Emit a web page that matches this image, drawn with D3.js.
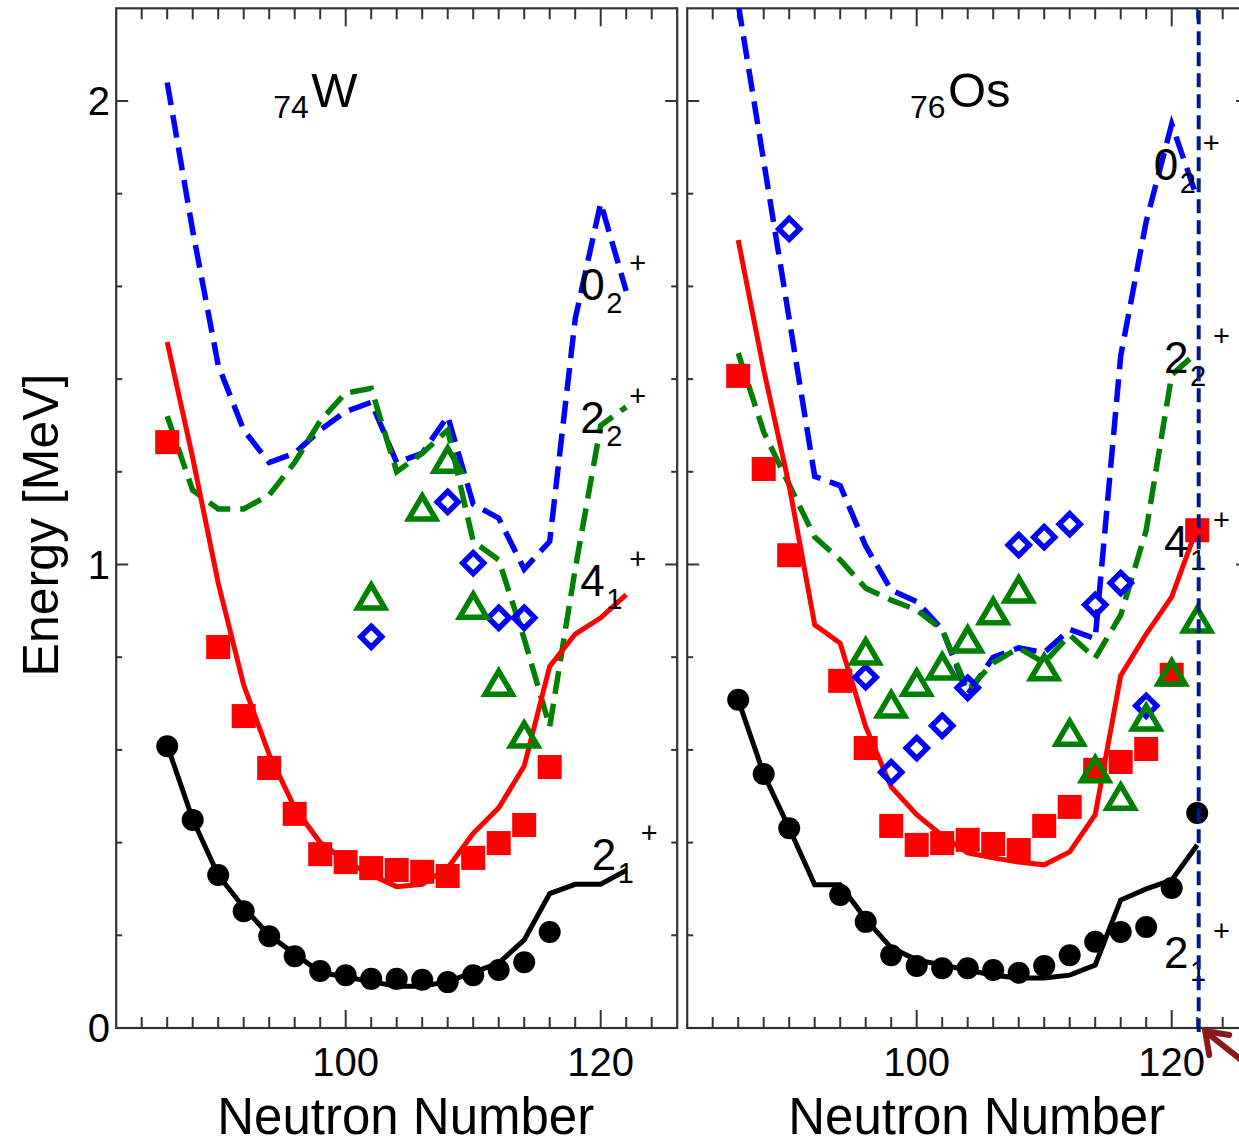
<!DOCTYPE html>
<html>
<head>
<meta charset="utf-8">
<script src="https://cdn.jsdelivr.net/npm/d3@7"></script>
<style>
body { margin: 0; background: #fff; }
svg { display: block; font-family: "Liberation Sans", Arial, sans-serif; }
</style>
</head>
<body>
<div id="chart"></div>
<script>
// theory: every even neutron number from 86 to 122
var neutrons = [86, 88, 90, 92, 94, 96, 98, 100, 102, 104, 106, 108, 110, 112, 114, 116, 118, 120, 122];

// 74W, theory (MeV)
var wTh21 = [0.61, 0.45, 0.33, 0.26, 0.20, 0.16, 0.12, 0.11, 0.10, 0.09, 0.09, 0.10, 0.12, 0.14, 0.19, 0.29, 0.31, 0.31, 0.34];
var wTh41 = [1.48, 1.23, 0.96, 0.74, 0.59, 0.475, 0.40, 0.36, 0.33, 0.305, 0.31, 0.345, 0.42, 0.475, 0.565, 0.78, 0.85, 0.885, 0.935];
var wTh22 = [1.32, 1.16, 1.12, 1.12, 1.15, 1.22, 1.31, 1.37, 1.38, 1.20, 1.24, 1.29, 1.05, 1.01, 0.84, 0.65, 0.99, 1.30, 1.34];
var wTh02 = [2.04, 1.72, 1.43, 1.29, 1.22, 1.24, 1.29, 1.33, 1.35, 1.22, 1.24, 1.32, 1.13, 1.10, 0.99, 1.05, 1.53, 1.78, 1.59];

// 74W, experiment [N, MeV]
var wExp21 = [[86, 0.608], [88, 0.449], [90, 0.330], [92, 0.252], [94, 0.198], [96, 0.155], [98, 0.123], [100, 0.114],
    [102, 0.106], [104, 0.106], [106, 0.104], [108, 0.099], [110, 0.114], [112, 0.125], [114, 0.142], [116, 0.207]];
var wExp41 = [[86, 1.264], [90, 0.822], [92, 0.673], [94, 0.561], [96, 0.462], [98, 0.375], [100, 0.358], [102, 0.345],
    [104, 0.341], [106, 0.337], [108, 0.328], [110, 0.367], [112, 0.399], [114, 0.438], [116, 0.563]];
var wExp22 = [[102, 0.93], [106, 1.122], [108, 1.225], [110, 0.91], [112, 0.744], [114, 0.632]];
var wExp02 = [[102, 0.844], [108, 1.135], [110, 1.003], [112, 0.885], [114, 0.885]];

// 76Os, theory (MeV)
var osTh21 = [0.708, 0.548, 0.431, 0.309, 0.309, 0.235, 0.173, 0.147, 0.136, 0.125, 0.114, 0.108, 0.108, 0.114, 0.136, 0.276, 0.30, 0.319, 0.395];
var osTh41 = [1.70, 1.42, 1.17, 0.87, 0.83, 0.65, 0.52, 0.46, 0.415, 0.378, 0.367, 0.358, 0.352, 0.38, 0.46, 0.76, 0.85, 0.93, 1.08];
var osTh22 = [1.456, 1.286, 1.172, 1.059, 1.010, 0.949, 0.923, 0.902, 0.859, 0.729, 0.788, 0.820, 0.788, 0.848, 0.798, 0.891, 1.074, 1.409, 1.458];
var osTh02 = [2.21, 1.87, 1.53, 1.19, 1.17, 1.04, 0.945, 0.92, 0.86, 0.72, 0.80, 0.82, 0.81, 0.86, 0.84, 1.45, 1.74, 1.95, 1.79];

// 76Os, experiment [N, MeV]
var osExp21 = [[86, 0.708], [88, 0.548], [90, 0.431], [94, 0.287], [96, 0.229], [98, 0.157], [100, 0.134], [102, 0.129],
    [104, 0.129], [106, 0.125], [108, 0.119], [110, 0.134], [112, 0.157], [114, 0.186], [116, 0.207], [118, 0.218],
    [120, 0.302], [122, 0.464]];
var osExp41 = [[86, 1.407], [88, 1.206], [90, 1.020], [94, 0.749], [96, 0.604], [98, 0.436], [100, 0.395], [102, 0.399],
    [104, 0.406], [106, 0.397], [108, 0.384], [110, 0.436], [112, 0.477], [114, 0.557], [116, 0.574], [118, 0.602],
    [120, 0.762], [122, 1.074]];
var osExp22 = [[96, 0.811], [98, 0.697], [100, 0.744], [102, 0.779], [104, 0.837], [106, 0.898], [108, 0.945],
    [110, 0.777], [112, 0.636], [114, 0.557], [116, 0.498], [118, 0.669], [120, 0.766], [122, 0.880]];
var osExp02 = [[90, 1.724], [96, 0.757], [98, 0.552], [100, 0.604], [102, 0.652], [104, 0.734], [108, 1.042],
    [110, 1.059], [112, 1.087], [114, 0.913], [116, 0.960], [118, 0.695]];

var xDomain = [82, 126];
var yDomain = [0, 2.2];
var xMajor = [100, 120];
var yMajor = [0, 1, 2];
var markedN = 122;

var width = 1239, height = 1145;
var plotTop = 8.3, plotBottom = 1028, panelW = 561;

var svg = d3.select('#chart').append('svg')
    .attr('width', width)
    .attr('height', height);

var y = d3.scaleLinear().domain(yDomain).range([plotBottom, plotTop]);

var xTicksMinor = d3.range(84, 126, 2);
var yTicksMinor = [0.2, 0.4, 0.6, 0.8, 1, 1.2, 1.4, 1.6, 1.8, 2];

function pairs(arr) {
    return arr.map(function(v, i) { return [neutrons[i], v]; });
}

function label(g, x0, base, main, sub) {
    g.append('text').attr('x', x0).attr('y', base).attr('font-size', 44).text(main);
    g.append('text').attr('x', x0 + 26).attr('y', base + 13).attr('font-size', 29).text(sub);
    g.append('text').attr('x', x0 + 49).attr('y', base - 27).attr('font-size', 29).text('+');
}

function drawPanel(id, left, th, exp, element, labels) {
    var x = d3.scaleLinear().domain(xDomain).range([left, left + panelW]);
    var g = svg.append('g');

    g.append('clipPath').attr('id', 'clip-' + id)
        .append('rect')
        .attr('x', left).attr('y', plotTop)
        .attr('width', panelW).attr('height', plotBottom - plotTop);

    // ticks, pointing inward on all four sides
    var ax = g.append('g').attr('stroke', '#333').attr('stroke-width', 2);
    xTicksMinor.forEach(function(n) {
        var len = xMajor.indexOf(n) >= 0 ? 18 : 11;
        ax.append('line').attr('x1', x(n)).attr('x2', x(n)).attr('y1', plotTop).attr('y2', plotTop + len);
        ax.append('line').attr('x1', x(n)).attr('x2', x(n)).attr('y1', plotBottom).attr('y2', plotBottom - len);
    });
    yTicksMinor.forEach(function(e) {
        var len = yMajor.indexOf(e) >= 0 ? 12 : 6;
        ax.append('line').attr('x1', left).attr('x2', left + len).attr('y1', y(e)).attr('y2', y(e));
        ax.append('line').attr('x1', left + panelW).attr('x2', left + panelW - len).attr('y1', y(e)).attr('y2', y(e));
    });

    g.append('rect')
        .attr('x', left).attr('y', plotTop)
        .attr('width', panelW).attr('height', plotBottom - plotTop)
        .attr('fill', 'none').attr('stroke', '#333').attr('stroke-width', 2.2);

    g.selectAll('.xlab').data(xMajor).enter().append('text')
        .attr('x', function(d) { return x(d); })
        .attr('y', plotBottom + 48)
        .attr('text-anchor', 'middle')
        .attr('font-size', 40)
        .text(function(d) { return d; });

    g.append('text')
        .attr('x', left + panelW / 2 + 9)
        .attr('y', plotBottom + 106)
        .attr('text-anchor', 'middle')
        .attr('font-size', 51)
        .text('Neutron Number');

    var plot = g.append('g').attr('clip-path', 'url(#clip-' + id + ')');
    var line = d3.line()
        .x(function(d) { return x(d[0]); })
        .y(function(d) { return y(d[1]); });

    plot.append('path').datum(pairs(th.t02)).attr('d', line)
        .attr('fill', 'none').attr('stroke', '#0000ff').attr('stroke-width', 5.5).attr('stroke-dasharray', '23,10');
    plot.append('path').datum(pairs(th.t22)).attr('d', line)
        .attr('fill', 'none').attr('stroke', '#008000').attr('stroke-width', 5.5).attr('stroke-dasharray', '23,10');
    plot.append('path').datum(pairs(th.t41)).attr('d', line)
        .attr('fill', 'none').attr('stroke', '#ff0000').attr('stroke-width', 5);
    plot.append('path').datum(pairs(th.t21)).attr('d', line)
        .attr('fill', 'none').attr('stroke', '#000').attr('stroke-width', 5);

    plot.selectAll('.c21').data(exp.e21).enter().append('circle')
        .attr('cx', function(d) { return x(d[0]); })
        .attr('cy', function(d) { return y(d[1]); })
        .attr('r', 11).attr('fill', '#000');

    plot.selectAll('.s41').data(exp.e41).enter().append('rect')
        .attr('x', function(d) { return x(d[0]) - 12; })
        .attr('y', function(d) { return y(d[1]) - 12; })
        .attr('width', 24).attr('height', 24).attr('fill', '#ff0000');

    plot.selectAll('.d02').data(exp.e02).enter().append('path')
        .attr('d', function(d) {
            var cx = x(d[0]), cy = y(d[1]), r = 10.5;
            return 'M' + cx + ',' + (cy - r) + 'L' + (cx + r) + ',' + cy + 'L' + cx + ',' + (cy + r) + 'L' + (cx - r) + ',' + cy + 'Z';
        })
        .attr('fill', 'none').attr('stroke', '#0000ff').attr('stroke-width', 5.5);

    plot.selectAll('.t22').data(exp.e22).enter().append('path')
        .attr('d', function(d) {
            var cx = x(d[0]), cy = y(d[1]);
            return 'M' + cx + ',' + (cy - 12) + 'L' + (cx + 13.5) + ',' + (cy + 11) + 'L' + (cx - 13.5) + ',' + (cy + 11) + 'Z';
        })
        .attr('fill', 'none').attr('stroke', '#008000').attr('stroke-width', 5.5).attr('stroke-linejoin', 'miter');

    // element name with proton number
    g.append('text').attr('x', x(element.n) - 38).attr('y', 118).attr('font-size', 32).text(element.z);
    g.append('text').attr('x', x(element.n)).attr('y', 107).attr('font-size', 49).text(element.sym);

    labels.forEach(function(l) {
        label(g, x(l[0]), y(l[1]), l[2], l[3]);
    });

    return x;
}

drawPanel('w', 116.2,
    { t21: wTh21, t41: wTh41, t22: wTh22, t02: wTh02 },
    { e21: wExp21, e41: wExp41, e22: wExp22, e02: wExp02 },
    { z: '74', sym: 'W', n: 97.3 },
    [[118.4, 1.571, '0', '2'], [118.4, 1.284, '2', '2'], [118.4, 0.932, '4', '1'], [119.3, 0.341, '2', '1']]);

var xOs = drawPanel('os', 687.2,
    { t21: osTh21, t41: osTh41, t22: osTh22, t02: osTh02 },
    { e21: osExp21, e41: osExp41, e22: osExp22, e02: osExp02 },
    { z: '76', sym: 'Os', n: 82 + (948 - 687.2) / 12.75 },
    [[118.6, 1.83, '0', '2'], [119.4, 1.413, '2', '2'], [119.4, 1.016, '4', '1'], [119.4, 0.130, '2', '1']]);

// y axis labels on the left panel
svg.selectAll('.ylab').data(yMajor).enter().append('text')
    .attr('x', 110)
    .attr('y', function(d) { return y(d) + 14; })
    .attr('text-anchor', 'end')
    .attr('font-size', 40)
    .text(function(d) { return d; });

svg.append('text')
    .attr('transform', 'translate(58,525) rotate(-90)')
    .attr('text-anchor', 'middle')
    .attr('font-size', 50)
    .text('Energy [MeV]');

// marker line at N = 122 in the Os panel
svg.append('line')
    .attr('x1', xOs(markedN) + 1.5).attr('x2', xOs(markedN) + 1.5)
    .attr('y1', plotTop + 2).attr('y2', plotBottom + 4)
    .attr('stroke', '#001a8c').attr('stroke-width', 4).attr('stroke-dasharray', '14,7');

// arrow pointing at it
var ax0 = xOs(markedN) + 8, ay0 = plotBottom + 3;
svg.append('path')
    .attr('d', 'M' + (ax0 + 40) + ',' + (ay0 + 32) + 'L' + (ax0 + 2) + ',' + (ay0 + 2))
    .attr('stroke', '#8b1a1a').attr('stroke-width', 6).attr('fill', 'none');
svg.append('path')
    .attr('d', 'M' + (ax0 + 4) + ',' + (ay0 + 24) + 'L' + ax0 + ',' + ay0 + 'L' + (ax0 + 24) + ',' + (ay0 + 4))
    .attr('stroke', '#8b1a1a').attr('stroke-width', 6).attr('fill', 'none')
    .attr('stroke-linejoin', 'miter').attr('stroke-linecap', 'round');
</script>
</body>
</html>
